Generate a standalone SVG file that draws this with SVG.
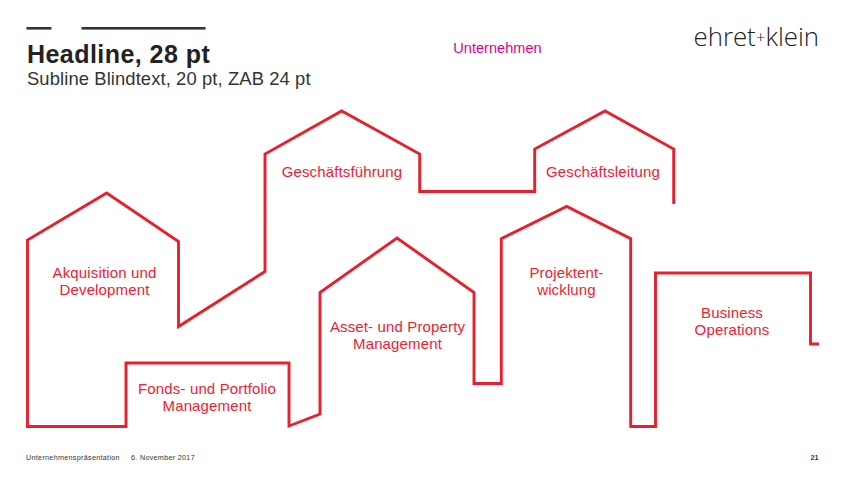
<svg xmlns="http://www.w3.org/2000/svg" width="850" height="478" viewBox="0 0 850 478">
<style>
text{font-family:"Liberation Sans",Arial,sans-serif}
.l{font-size:15px;fill:#ee2233;text-anchor:middle;letter-spacing:.14px}
.f{font-size:7.2px;fill:#333;letter-spacing:.3px}
.c{fill:none;stroke:#e8202e;stroke-width:2.9;stroke-linejoin:miter}
</style>
<rect width="850" height="478" fill="#fff"/>
<g id="header">
<rect x="26.500" y="27" width="25" height="2.600" fill="#333"/>
<rect x="81.500" y="27" width="124" height="2.600" fill="#333"/>
<text x="27" y="63" font-size="25" font-weight="700" fill="#222" letter-spacing=".45">Headline, 28 pt</text>
<text x="27" y="85" font-size="18.400" fill="#333" letter-spacing=".1">Subline Blindtext, 20 pt, ZAB 24 pt</text>
<text x="497.500" y="52.500" font-size="14.600" fill="#e6007e" text-anchor="middle">Unternehmen</text>
<text id="logo" x="693.500" y="46" font-size="25.800" fill="#222" style="font-family:'Open Sans',sans-serif;font-weight:300">ehret<tspan font-size="17" dy="-3">+</tspan><tspan dy="3">klein</tspan></text>
</g>
<g id="connectors">
<path class="c" d="M819 344H810.500V273H655.500V426.500H630.700V238.700L566.700 206.400L501.300 238.700V383.500H474V292.500L397 238L320 292.500V414L289 426V363H126V426.500H27.500V240L106.700 193L178.500 241.500V326.500L265 271.500V154L341.700 111L419.700 154V191.500H534.700V149L605 111L673.700 149V204"/>
</g>
<g id="geschaeftsfuehrung"><text class="l" x="342" y="176.500">Geschäftsführung</text></g>
<g id="geschaeftsleitung"><text class="l" x="603" y="176.500">Geschäftsleitung</text></g>
<g id="akquisition"><text class="l" x="104.500" y="277.500">Akquisition und</text><text class="l" x="104.500" y="295">Development</text></g>
<g id="fonds"><text class="l" x="207" y="393.500">Fonds- und Portfolio</text><text class="l" x="207" y="411">Management</text></g>
<g id="asset"><text class="l" x="397.500" y="331.500">Asset- und Property</text><text class="l" x="397.500" y="349">Management</text></g>
<g id="projektentwicklung"><text class="l" x="566.500" y="277.500">Projektent-</text><text class="l" x="566.500" y="295">wicklung</text></g>
<g id="business"><text class="l" x="732" y="317.500">Business</text><text class="l" x="732" y="335">Operations</text></g>
<g id="footer">
<text class="f" x="26" y="460">Unternehmenspräsentation</text>
<text class="f" x="131" y="460">6. November 2017</text>
<text x="810.500" y="460" font-size="7.200" font-weight="700" fill="#333">21</text>
</g>
</svg>
